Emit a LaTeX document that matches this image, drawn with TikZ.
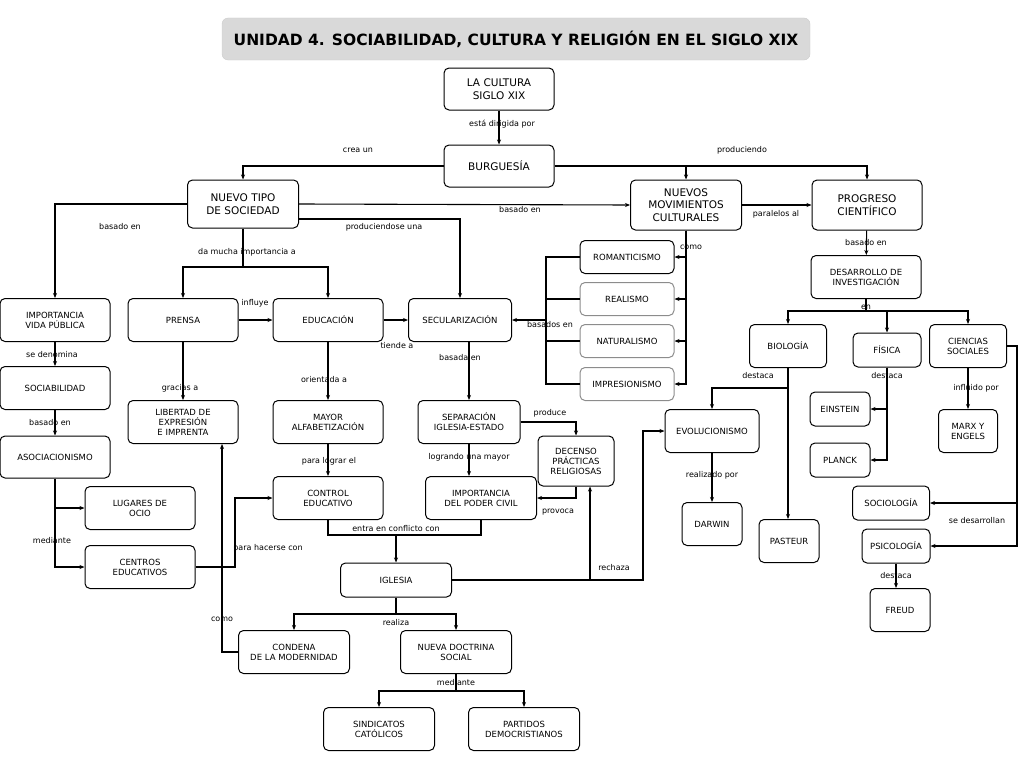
\documentclass[tikz,border=0pt]{standalone}
\usepackage{fontspec}
\setmainfont{DejaVu Sans}
\usetikzlibrary{arrows.meta}
\tikzstyle{concept}=[draw=black,rounded corners=5pt,line width=1pt,align=center,inner sep=1pt,font=\fontsize{8.5}{10}\selectfont]
\tikzstyle{major}=[concept,font=\fontsize{10.5}{12.5}\selectfont]
\tikzstyle{faint}=[concept,draw=black!45]
\tikzstyle{link}=[font=\fontsize{8}{9}\selectfont,inner sep=0pt]
\tikzstyle{connect}=[-{Stealth[length=5pt,width=4pt]},line width=1.1pt,draw=black]
\tikzstyle{bar}=[line width=1.1pt,draw=black]

\begin{document}
\begin{tikzpicture}[x=1pt,y=-1pt]
	\useasboundingbox (0,0) rectangle (1024,768);
	% conceptos
	\node [draw=black!20,fill=black!15,rounded corners=6pt,minimum width=588,minimum height=42,font=\fontsize{15.5}{18}\selectfont\bfseries] (title) at (516,39) {UNIDAD 4. SOCIABILIDAD, CULTURA Y RELIGIÓN EN EL SIGLO XIX};
	\node [style=major,minimum width=110,minimum height=42] (cultura) at (499,89) {LA CULTURA\\SIGLO XIX};
	\node [style=major,minimum width=110,minimum height=42] (burg) at (499,166) {BURGUESÍA};
	\node [style=major,minimum width=111,minimum height=48] (nuevotipo) at (243,204) {NUEVO TIPO\\DE SOCIEDAD};
	\node [style=major,minimum width=111,minimum height=50] (nuevos) at (686,205) {NUEVOS\\MOVIMIENTOS\\CULTURALES};
	\node [style=major,minimum width=110,minimum height=50] (progreso) at (867,205) {PROGRESO\\CIENTÍFICO};
	\node [style=concept,minimum width=110,minimum height=43] (impvida) at (55,320) {IMPORTANCIA\\VIDA PÚBLICA};
	\node [style=concept,minimum width=110,minimum height=43] (prensa) at (183,320) {PRENSA};
	\node [style=concept,minimum width=110,minimum height=43] (educ) at (328,320) {EDUCACIÓN};
	\node [style=concept,minimum width=103,minimum height=43] (secul) at (460,320) {SECULARIZACIÓN};
	\node [style=concept,minimum width=94,minimum height=33] (roman) at (627,257) {ROMANTICISMO};
	\node [style=faint,minimum width=94,minimum height=33] (realismo) at (627,299) {REALISMO};
	\node [style=faint,minimum width=94,minimum height=33] (natur) at (627,341) {NATURALISMO};
	\node [style=faint,minimum width=94,minimum height=33] (impres) at (627,384) {IMPRESIONISMO};
	\node [style=concept,minimum width=110,minimum height=43] (desarrollo) at (866,277) {DESARROLLO DE\\INVESTIGACIÓN};
	\node [style=concept,minimum width=77,minimum height=43] (biologia) at (788,346) {BIOLOGÍA};
	\node [style=concept,minimum width=68,minimum height=34] (fisica) at (887,350) {FÍSICA};
	\node [style=concept,minimum width=77,minimum height=43] (ciencias) at (968,346) {CIENCIAS\\SOCIALES};
	\node [style=concept,minimum width=110,minimum height=43] (sociab) at (55,388) {SOCIABILIDAD};
	\node [style=concept,minimum width=110,minimum height=43] (libertad) at (183,422) {LIBERTAD DE\\EXPRESIÓN\\E IMPRENTA};
	\node [style=concept,minimum width=110,minimum height=43] (mayor) at (328,422) {MAYOR\\ALFABETIZACIÓN};
	\node [style=concept,minimum width=102,minimum height=43] (separ) at (469,422) {SEPARACIÓN\\IGLESIA-ESTADO};
	\node [style=concept,minimum width=76,minimum height=50] (decenso) at (576,461) {DECENSO\\PRÁCTICAS\\RELIGIOSAS};
	\node [style=concept,minimum width=94,minimum height=43] (evol) at (712,431) {EVOLUCIONISMO};
	\node [style=concept,minimum width=60,minimum height=34] (einstein) at (840,409) {EINSTEIN};
	\node [style=concept,minimum width=59,minimum height=43] (marx) at (968,431) {MARX Y\\ENGELS};
	\node [style=concept,minimum width=60,minimum height=34] (planck) at (840,460) {PLANCK};
	\node [style=concept,minimum width=110,minimum height=42] (asoc) at (55,457) {ASOCIACIONISMO};
	\node [style=concept,minimum width=110,minimum height=43] (lugares) at (140,508) {LUGARES DE\\OCIO};
	\node [style=concept,minimum width=110,minimum height=43] (control) at (328,498) {CONTROL\\EDUCATIVO};
	\node [style=concept,minimum width=111,minimum height=43] (importpoder) at (481,498) {IMPORTANCIA\\DEL PODER CIVIL};
	\node [style=concept,minimum width=60,minimum height=43] (darwin) at (712,524) {DARWIN};
	\node [style=concept,minimum width=60,minimum height=43] (pasteur) at (789,541) {PASTEUR};
	\node [style=concept,minimum width=77,minimum height=34] (sociologia) at (891,503) {SOCIOLOGÍA};
	\node [style=concept,minimum width=68,minimum height=34] (psicol) at (896,546) {PSICOLOGÍA};
	\node [style=concept,minimum width=110,minimum height=43] (centros) at (140,567) {CENTROS\\EDUCATIVOS};
	\node [style=concept,minimum width=111,minimum height=34] (iglesia) at (396,580) {IGLESIA};
	\node [style=concept,minimum width=60,minimum height=43] (freud) at (900,610) {FREUD};
	\node [style=concept,minimum width=111,minimum height=43] (condena) at (294,652) {CONDENA\\DE LA MODERNIDAD};
	\node [style=concept,minimum width=111,minimum height=43] (doctrina) at (456,652) {NUEVA DOCTRINA\\SOCIAL};
	\node [style=concept,minimum width=111,minimum height=43] (sindicatos) at (379,729) {SINDICATOS\\CATÓLICOS};
	\node [style=concept,minimum width=111,minimum height=43] (partidos) at (524,729) {PARTIDOS\\DEMOCRISTIANOS};
	% puntos de paso
	\coordinate (dm) at (243,267);
	\coordinate (bas) at (546,320);
	\coordinate (en) at (866,311);
	\coordinate (conf) at (396,535);
	\coordinate (ph) at (235,567);
	\coordinate (co) at (222,652);
	\coordinate (re) at (590,580);
	\coordinate (re2) at (643,580);
	\coordinate (rz) at (396,614);
	\coordinate (md) at (456,691);
	\coordinate (de) at (788,388);
	\coordinate (sd) at (1017,346);
	% enlaces
	\draw [style=connect] (cultura) -- (burg);
	\draw [style=connect] (burg.west) -| (nuevotipo.north);
	\draw [style=connect] (burg.east) -| (progreso.north);
	\draw [style=connect] (nuevos.north |- burg.east) -- (nuevos.north);
	\draw [style=connect] (nuevotipo.west) -| (impvida.north);
	\draw [style=connect] (nuevotipo.east) -- (nuevos.west);
	\draw [style=connect] ([yshift=-15pt]nuevotipo.east) -| (secul.north);
	\draw [style=bar] (nuevotipo.south) -- (dm);
	\draw [style=connect] (dm) -| (prensa.north);
	\draw [style=connect] (dm) -| (educ.north);
	\draw [style=connect] (nuevos.east) -- (progreso.west);
	\draw [style=connect] (nuevos.south) |- (roman.east);
	\draw [style=connect] (nuevos.south) |- (realismo.east);
	\draw [style=connect] (nuevos.south) |- (natur.east);
	\draw [style=connect] (nuevos.south) |- (impres.east);
	\draw [style=bar] (roman.west) -| (bas);
	\draw [style=bar] (realismo.west) -| (bas);
	\draw [style=bar] (natur.west) -| (bas);
	\draw [style=bar] (impres.west) -| (bas);
	\draw [style=connect] (bas) -- (secul.east);
	\draw [style=connect] (progreso) -- (desarrollo);
	\draw [style=bar] (desarrollo) -- (en);
	\draw [style=connect] (en) -| (biologia.north);
	\draw [style=connect] (en) -| (fisica.north);
	\draw [style=connect] (en) -| (ciencias.north);
	\draw [style=connect] (impvida) -- (sociab);
	\draw [style=connect] (sociab) -- (asoc);
	\draw [style=connect] (asoc.south) |- (centros.west);
	\draw [style=connect] (asoc.south |- lugares.west) -- (lugares.west);
	\draw [style=connect] (prensa) -- (educ);
	\draw [style=connect] (educ) -- (secul);
	\draw [style=connect] (prensa) -- (libertad);
	\draw [style=connect] (educ) -- (mayor);
	\draw [style=connect] (mayor) -- (control);
	\draw [style=connect] (separ.north |- secul.south) -- (separ.north);
	\draw [style=connect] (separ.south) -- (separ.south |- importpoder.north);
	\draw [style=connect] (separ.east) -| (decenso.north);
	\draw [style=connect] (decenso.south) |- (importpoder.east);
	\draw [style=bar] (control.south) |- (conf) -| (importpoder.south);
	\draw [style=connect] (conf) -- (iglesia.north);
	\draw [style=connect] (centros.east) -- (ph) |- (control.west);
	\draw [style=connect] (condena.west) -- (co) -- (co |- libertad.south);
	\draw [style=connect] (iglesia.east) -- (re) -- (re |- decenso.south);
	\draw [style=connect] (re) -- (re2) |- (evol.west);
	\draw [style=bar] (iglesia.south) -- (rz);
	\draw [style=connect] (rz) -| (condena.north);
	\draw [style=connect] (rz) -| (doctrina.north);
	\draw [style=bar] (doctrina.south) -- (md);
	\draw [style=connect] (md) -| (sindicatos.north);
	\draw [style=connect] (md) -| (partidos.north);
	\draw [style=connect] (biologia.south) -- (biologia.south |- pasteur.north);
	\draw [style=connect] (de) -| (evol.north);
	\draw [style=connect] (fisica.south) |- (einstein.east);
	\draw [style=connect] (fisica.south) |- (planck.east);
	\draw [style=connect] (ciencias) -- (marx);
	\draw [style=connect] (ciencias.east) -- (sd) |- (psicol.east);
	\draw [style=connect] (sd) |- (sociologia.east);
	\draw [style=connect] (evol) -- (darwin);
	\draw [style=connect] (psicol.south) -- (psicol.south |- freud.north);
	% etiquetas
	\node [style=link] (l1) at (502,124) {está dirigida por};
	\node [style=link] (l2) at (358,150) {crea un};
	\node [style=link] (l3) at (742,150) {produciendo};
	\node [style=link] (l4) at (120,227) {basado en};
	\node [style=link] (l5) at (520,210) {basado en};
	\node [style=link] (l6) at (384,227) {produciendose una};
	\node [style=link] (l7) at (247,252) {da mucha importancia a};
	\node [style=link] (l8) at (776,214) {paralelos al};
	\node [style=link] (l9) at (691,247) {como};
	\node [style=link] (l10) at (550,325) {basados en};
	\node [style=link] (l11) at (866,243) {basado en};
	\node [style=link] (l12) at (866,307) {en};
	\node [style=link] (l13) at (52,355) {se denomina};
	\node [style=link] (l14) at (50,423) {basado en};
	\node [style=link] (l15) at (52,541) {mediante};
	\node [style=link] (l16) at (255,303) {influye};
	\node [style=link] (l17) at (397,346) {tiende a};
	\node [style=link] (l18) at (180,388) {gracias a};
	\node [style=link] (l19) at (324,380) {orientada a};
	\node [style=link] (l20) at (329,461) {para lograr el};
	\node [style=link] (l21) at (460,358) {basada en};
	\node [style=link] (l22) at (469,457) {logrando una mayor};
	\node [style=link] (l23) at (550,413) {produce};
	\node [style=link] (l24) at (558,512) {provoca};
	\node [style=link] (l25) at (396,529) {entra en conflicto con};
	\node [style=link] (l26) at (268,548) {para hacerse con};
	\node [style=link] (l27) at (222,619) {como};
	\node [style=link] (l28) at (614,568) {rechaza};
	\node [style=link] (l29) at (396,623) {realiza};
	\node [style=link] (l30) at (456,683) {mediante};
	\node [style=link] (l31) at (758,376) {destaca};
	\node [style=link] (l32) at (887,376) {destaca};
	\node [style=link] (l33) at (976,388) {influido por};
	\node [style=link] (l34) at (977,521) {se desarrollan};
	\node [style=link] (l35) at (712,475) {realizado por};
	\node [style=link] (l36) at (896,576) {destaca};
\end{tikzpicture}
\end{document}
